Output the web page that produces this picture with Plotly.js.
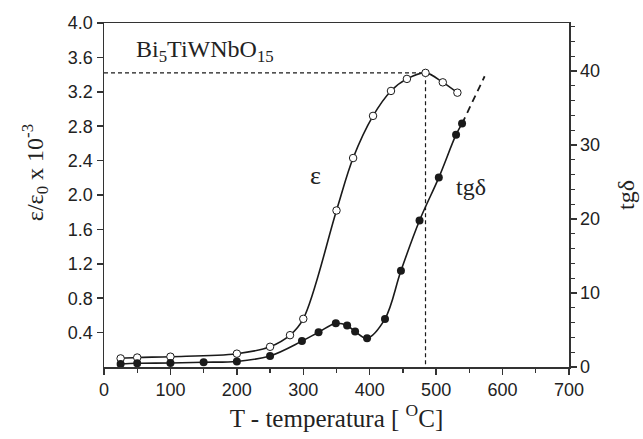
<!DOCTYPE html>
<html>
<head>
<meta charset="utf-8">
<script src="https://cdn.plot.ly/plotly-3.0.1.min.js"></script>
<style>html,body{margin:0;padding:0;background:#fff;}#chart{width:643px;height:439px;}</style>
</head>
<body>
<div id="chart"></div>
<script>
// Permittivity (open circles), left axis
var T_eps = [25, 50, 100, 200, 250, 280, 300, 350, 375, 405, 432, 456, 484, 510, 532];
var eps = [0.10, 0.11, 0.12, 0.155, 0.235, 0.37, 0.56, 1.82, 2.43, 2.92, 3.21, 3.35, 3.42, 3.31, 3.19];
// Loss tangent (filled circles), right axis
var T_tg = [25, 50, 100, 150, 200, 250, 298, 323, 349, 366, 378, 396, 423, 447, 475, 504, 530, 539];
var tg = [0.4, 0.5, 0.55, 0.65, 0.75, 1.5, 3.5, 4.7, 5.9, 5.6, 4.8, 3.9, 6.5, 13.0, 19.8, 25.6, 31.4, 32.9];
// dashed extrapolation of tg
var T_ext = [539, 573];
var tg_ext = [32.9, 39.3];
// Curie point guide
var T_peak = 484;
var eps_peak = 3.42;
var guideX = [0, T_peak, T_peak];
var guideY = [eps_peak, eps_peak, 0];

var yTicks = [0.4, 0.8, 1.2, 1.6, 2.0, 2.4, 2.8, 3.2, 3.6, 4.0];
var yTickText = ['0.4','0.8','1.2','1.6','2.0','2.4','2.8','3.2','3.6','4.0'];

var lineCol = '#1a1a1a';
var serif = 'Liberation Serif, Times New Roman, serif';
var sans = 'Liberation Sans, Arial, sans-serif';

var traces = [
  {x: guideX, y: guideY, mode: 'lines', line: {color: lineCol, width: 1.2, dash: '4px,3px'}, hoverinfo: 'skip', showlegend: false},
  {x: T_eps, y: eps, mode: 'lines+markers', line: {color: lineCol, width: 1.6, shape: 'spline', smoothing: 1},
   marker: {symbol: 'circle', size: 7.5, color: '#ffffff', line: {color: lineCol, width: 1}}, showlegend: false},
  {x: T_tg, y: tg, yaxis: 'y2', mode: 'lines+markers', line: {color: lineCol, width: 1.6, shape: 'spline', smoothing: 1},
   marker: {symbol: 'circle', size: 8, color: lineCol}, showlegend: false},
  {x: T_ext, y: tg_ext, yaxis: 'y2', mode: 'lines', line: {color: lineCol, width: 1.8, dash: '7px,5px'}, showlegend: false}
];

var layout = {
  width: 643, height: 439,
  margin: {l: 104, r: 74, t: 23, b: 72},
  paper_bgcolor: '#ffffff', plot_bgcolor: '#ffffff',
  font: {family: sans, size: 18, color: '#222'},
  xaxis: {
    range: [0, 700], dtick: 100, tick0: 0,
    showline: true, mirror: true, linecolor: '#333', linewidth: 1.5,
    ticks: 'outside', ticklen: 6, tickwidth: 1.5, tickcolor: '#333',
    minor: {dtick: 50, ticks: 'outside', ticklen: 4, tickwidth: 1.2, tickcolor: '#333'},
    showgrid: false, zeroline: false,
    tickfont: {family: sans, size: 18, color: '#222'},
    title: {text: 'T - temperatura [ <sup>O</sup>C]', font: {family: serif, size: 25, color: '#222'}, standoff: 4}
  },
  yaxis: {
    range: [0, 4.0], tickvals: yTicks, ticktext: yTickText,
    showline: true, linecolor: '#333', linewidth: 1.5,
    ticks: 'outside', ticklen: 6, tickwidth: 1.5, tickcolor: '#333',
    showgrid: false, zeroline: false,
    tickfont: {family: sans, size: 18, color: '#222'}
  },
  yaxis2: {
    range: [0, 46.5], overlaying: 'y', side: 'right', dtick: 10, tick0: 0,
    showline: true, linecolor: '#333', linewidth: 1.5,
    ticks: 'outside', ticklen: 6, tickwidth: 1.5, tickcolor: '#333',
    minor: {dtick: 2, ticks: 'outside', ticklen: 4, tickwidth: 1.2, tickcolor: '#333'},
    showgrid: false, zeroline: false,
    tickfont: {family: sans, size: 18, color: '#222'},
    title: {text: 'tgδ', font: {family: serif, size: 24, color: '#222'}, standoff: 18}
  },
  annotations: [
    {xref: 'paper', yref: 'paper', x: -0.148, y: 0.564, xanchor: 'center', yanchor: 'middle', textangle: -90, showarrow: false,
     text: 'ε/ε<sub>0</sub> x 10<sup>-3</sup>', font: {family: serif, size: 24, color: '#222'}},
    {xref: 'paper', yref: 'paper', x: 0.218, y: 0.92, showarrow: false, xanchor: 'center', yanchor: 'middle',
     text: 'Bi<sub>5</sub>TiWNbO<sub>15</sub>', font: {family: serif, size: 24, color: '#222'}},
    {xref: 'x', yref: 'paper', x: 319, y: 0.556, showarrow: false,
     text: 'ε', font: {family: serif, size: 26, color: '#222'}},
    {xref: 'x', yref: 'paper', x: 553, y: 0.523, showarrow: false,
     text: 'tgδ', font: {family: serif, size: 24, color: '#222'}}
  ]
};

Plotly.newPlot('chart', traces, layout, {displayModeBar: false, staticPlot: true});
</script>
</body>
</html>
